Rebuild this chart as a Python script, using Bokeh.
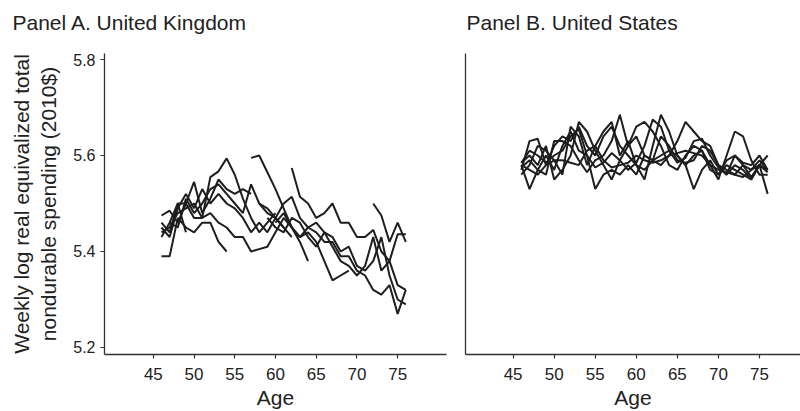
from bokeh.plotting import figure
from bokeh.layouts import row, column
from bokeh.models import FixedTicker, Range1d
from bokeh.core.properties import value
from bokeh.embed import file_html
from bokeh.resources import INLINE

# ---------------- data ----------------
age_ticks = [45, 50, 55, 60, 65, 70, 75]
y_ticks = [5.2, 5.4, 5.6, 5.8]
panel_titles = ["Panel A. United Kingdom", "Panel B. United States"]
y_label_lines = ["Weekly log real equivalized total", "nondurable spending (2010$)"]

# Panel A (United Kingdom): cohort lines, start age + yearly values
uk_start = [46, 46, 46, 46, 46, 46, 47, 57, 62, 72, 58, 60, 59]
uk_values = [
    [5.39, 5.39, 5.47, 5.45, 5.44, 5.46, 5.46, 5.42, 5.40],
    [5.46, 5.44, 5.50, 5.44],
    [5.475, 5.485, 5.46, 5.50, 5.545, 5.48, 5.51, 5.55, 5.53, 5.52, 5.53, 5.52],
    [5.45, 5.43, 5.49, 5.52, 5.49, 5.53, 5.50, 5.52, 5.50, 5.49, 5.47, 5.44, 5.46, 5.44, 5.47, 5.45, 5.43],
    [5.43, 5.46, 5.50, 5.50, 5.47, 5.47, 5.48, 5.46, 5.45, 5.43, 5.43, 5.40, 5.405, 5.41, 5.44, 5.47, 5.45, 5.42, 5.38],
    [5.44, 5.45, 5.48, 5.49, 5.50, 5.47, 5.555, 5.567, 5.594, 5.56, 5.51, 5.47, 5.44, 5.46, 5.48],
    [5.46, 5.45, 5.51, 5.48, 5.50, 5.53, 5.54, 5.52, 5.50, 5.48, 5.54, 5.50, 5.49, 5.47, 5.45],
    [5.595, 5.60, 5.565, 5.53, 5.49, 5.45, 5.43, 5.44, 5.42, 5.38, 5.34, 5.35, 5.36],
    [5.574, 5.514, 5.50, 5.47, 5.48, 5.50, 5.46, 5.46, 5.43, 5.43, 5.445, 5.40, 5.38, 5.33, 5.32],
    [5.50, 5.475, 5.42, 5.46, 5.42],
    [5.50, 5.48, 5.47, 5.50, 5.514, 5.47, 5.45, 5.46, 5.44, 5.43, 5.40, 5.41, 5.37, 5.36, 5.38, 5.43, 5.35, 5.30, 5.29],
    [5.46, 5.48, 5.45, 5.43, 5.45, 5.44, 5.42, 5.42, 5.39, 5.39, 5.36, 5.35, 5.32, 5.31, 5.33, 5.27, 5.32],
    [5.47, 5.45, 5.44, 5.47, 5.46, 5.43, 5.41, 5.44, 5.41, 5.38, 5.37, 5.35, 5.37, 5.43, 5.36, 5.38, 5.436, 5.436],
]

# Panel B (United States): cohort lines observed at ages 46-76
us_start = [46, 46, 46, 46, 46, 46, 46]
us_values = [
    [5.58, 5.53, 5.57, 5.60, 5.57, 5.62, 5.65, 5.61, 5.60, 5.53, 5.56, 5.57, 5.56, 5.58, 5.56, 5.60,
     5.59, 5.60, 5.61, 5.60, 5.58, 5.53, 5.57, 5.59, 5.56, 5.58, 5.57, 5.56, 5.55, 5.58, 5.57],
    [5.57, 5.63, 5.635, 5.58, 5.62, 5.64, 5.63, 5.66, 5.62, 5.60, 5.64, 5.66, 5.62, 5.60, 5.58, 5.57,
     5.59, 5.58, 5.60, 5.63, 5.67, 5.65, 5.63, 5.62, 5.58, 5.57, 5.56, 5.58, 5.57, 5.59, 5.57],
    [5.585, 5.60, 5.58, 5.62, 5.55, 5.57, 5.60, 5.67, 5.65, 5.61, 5.58, 5.55, 5.59, 5.62, 5.66, 5.67,
     5.65, 5.62, 5.58, 5.57, 5.60, 5.62, 5.61, 5.58, 5.55, 5.60, 5.65, 5.64, 5.59, 5.56, 5.56],
    [5.56, 5.58, 5.62, 5.61, 5.59, 5.56, 5.66, 5.64, 5.58, 5.62, 5.65, 5.67, 5.60, 5.63, 5.58, 5.55,
     5.62, 5.685, 5.65, 5.60, 5.58, 5.60, 5.61, 5.57, 5.56, 5.59, 5.60, 5.58, 5.555, 5.58, 5.52],
    [5.575, 5.59, 5.57, 5.56, 5.63, 5.63, 5.62, 5.59, 5.565, 5.59, 5.60, 5.63, 5.685, 5.62, 5.64, 5.60,
     5.59, 5.64, 5.62, 5.59, 5.585, 5.59, 5.62, 5.61, 5.58, 5.56, 5.58, 5.57, 5.55, 5.58, 5.60],
    [5.58, 5.57, 5.56, 5.58, 5.59, 5.59, 5.585, 5.58, 5.61, 5.62, 5.59, 5.575, 5.58, 5.585, 5.60, 5.59,
     5.585, 5.59, 5.60, 5.605, 5.61, 5.605, 5.60, 5.58, 5.57, 5.565, 5.56, 5.555, 5.57, 5.58, 5.565],
    [5.585, 5.61, 5.60, 5.585, 5.60, 5.61, 5.64, 5.655, 5.60, 5.575, 5.585, 5.605, 5.59, 5.57, 5.585, 5.62,
     5.675, 5.66, 5.61, 5.585, 5.595, 5.63, 5.635, 5.60, 5.575, 5.56, 5.60, 5.585, 5.58, 5.60, 5.57],
]

FONT = "Liberation Sans"
TXT = "#222222"
LINE = "#1e1e1e"
AXC = "#333333"


def style(p, show_y):
    p.grid.visible = False
    p.outline_line_color = None
    p.background_fill_color = "white"
    p.border_fill_color = "white"
    for ax in (p.xaxis, p.yaxis):
        ax.axis_line_color = AXC
        ax.axis_line_width = 1.3
        ax.major_tick_line_color = AXC
        ax.major_tick_line_width = 1.2
        ax.major_tick_in = 0
        ax.major_tick_out = 4
        ax.minor_tick_line_color = None
        ax.major_label_text_font = FONT
        ax.major_label_text_font_size = "17px"
        ax.major_label_text_color = TXT
        ax.axis_label_text_font = FONT
        ax.axis_label_text_font_style = "normal"
        ax.axis_label_text_color = TXT
    p.xaxis.ticker = FixedTicker(ticks=age_ticks)
    p.xaxis.axis_label = "Age"
    p.xaxis.axis_label_text_font_size = "21px"
    p.xaxis.major_label_standoff = 9
    p.xaxis.axis_label_standoff = 3
    if show_y:
        p.yaxis.ticker = FixedTicker(ticks=y_ticks)
        p.yaxis.major_label_text_font_size = "16px"
        p.yaxis.major_label_standoff = 5
        p.yaxis.axis_label = "\n".join(y_label_lines)
        p.yaxis.axis_label_text_font_size = "21px"
        p.yaxis.axis_label_standoff = 10
    else:
        p.yaxis.ticker = FixedTicker(ticks=[])
        p.yaxis.major_label_text_font_size = "0px"


Y0, Y1 = 5.1854, 5.8125

# strip with the two panel titles
top = figure(width=800, height=53, output_backend="svg", toolbar_location=None,
             x_range=Range1d(0, 800), y_range=Range1d(0, 53),
             x_axis_type=None, y_axis_type=None,
             min_border_left=0, min_border_right=0, min_border_top=0, min_border_bottom=0)
top.grid.visible = False
top.outline_line_color = None
top.text(x=[12, 466], y=[31, 31], text=panel_titles, text_font=value(FONT),
         text_font_size=value("21px"), text_color=TXT, text_align="left",
         text_baseline="middle")

pa = figure(width=450, height=358, output_backend="svg", toolbar_location=None,
            x_range=Range1d(39.0, 81.0), y_range=Range1d(Y0, Y1),
            min_border_left=104, min_border_right=4, min_border_top=0, min_border_bottom=57)
for s, vals in zip(uk_start, uk_values):
    ages = list(range(s, s + len(vals)))
    pa.line(ages, vals, line_color=LINE, line_width=2.0)
style(pa, True)

pb = figure(width=350, height=358, output_backend="svg", toolbar_location=None,
            x_range=Range1d(39.2, 80.0), y_range=Range1d(Y0, Y1),
            min_border_left=15, min_border_right=0, min_border_top=0, min_border_bottom=57)
for s, vals in zip(us_start, us_values):
    ages = list(range(s, s + len(vals)))
    pb.line(ages, vals, line_color=LINE, line_width=2.0)
style(pb, False)

layout = column(top, row(pa, pb, spacing=0), spacing=0)
open("out.html", "w").write(file_html(layout, INLINE))
